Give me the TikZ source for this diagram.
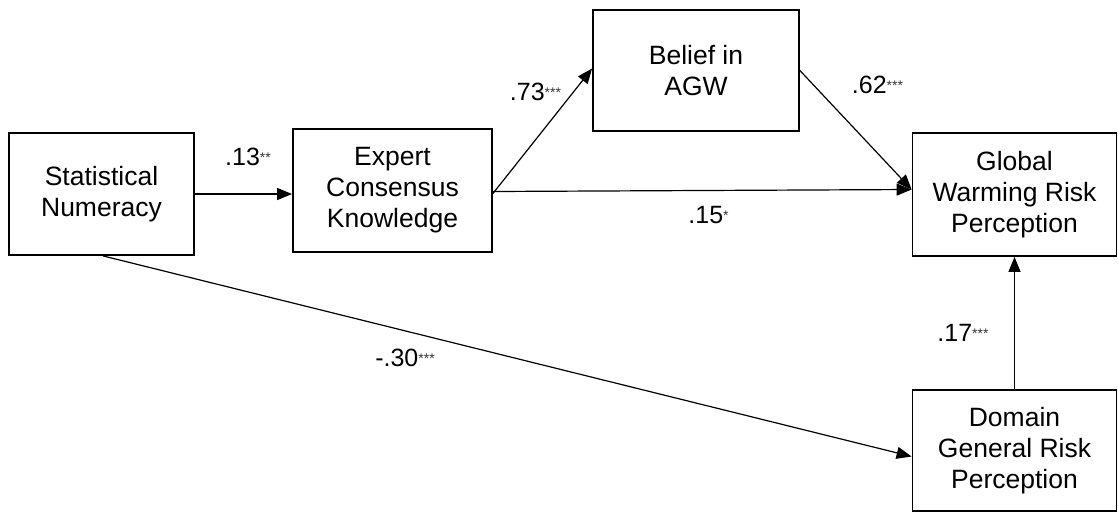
\documentclass[tikz,border=0pt]{standalone}
\usepackage{fontspec}
\setmainfont{Liberation Sans}
\usetikzlibrary{arrows.meta,calc}
\definecolor{starc}{gray}{0.2}
\newcommand\sigstars[1]{{\fontsize{14}{14}\selectfont\color{starc}\raisebox{3pt}{#1}}}
\tikzset{
  varbox/.style={draw=black, line width=1.8pt, align=center, inner sep=0pt,
    font=\fontsize{26.5}{31}\selectfont},
  path/.style={draw=black, line width=1.2pt, -{Triangle[length=15pt,width=12pt]}},
  coef/.style={inner sep=0pt, font=\fontsize{25}{25}\selectfont}
}
\begin{document}
\begin{tikzpicture}[x=1pt,y=-1pt]
\useasboundingbox (0,0) rectangle (1118,512);
\node[varbox, minimum width=185pt, minimum height=122pt] (sn) at (101.5,194) {Statistical\\Numeracy};
\node[varbox, minimum width=199pt, minimum height=123pt] (ec) at (392.5,190.5) {Expert\\Consensus\\Knowledge};
\node[varbox, minimum width=206pt, minimum height=121pt] (agw) at (696,70.5) {Belief in\\AGW};
\node[varbox, minimum width=204pt, minimum height=123pt] (gw) at (1014.5,194.5) {Global\\Warming Risk\\Perception};
\node[varbox, minimum width=204pt, minimum height=121pt] (dg) at (1014.5,450.5) {Domain\\General Risk\\Perception};

\coordinate (gwin) at ($(ec.east -| gw.west)+(0,-1)$);
\draw[path] (sn.east) -- (sn.east -| ec.west);
\draw[path] ([yshift=-3pt]ec.east) -- ([yshift=2pt]agw.west);
\draw[path] ([yshift=-1pt]ec.east) -- (gwin);
\draw[path] (agw.east) -- (gwin);
\draw[path] ([xshift=1.5pt]sn.south) -- ([yshift=-6pt]dg.west);
\draw[path] (dg.north) -- (gw.south);

\node[coef] (l13) at (248,157) {.13\sigstars{**}};
\node[coef] (l73) at (535.5,92) {.73\sigstars{***}};
\node[coef] (l62) at (877.5,85) {.62\sigstars{***}};
\node[coef] (l15) at (708.5,215) {.15\sigstars{*}};
\node[coef] (l30) at (405,358) {-.30\sigstars{***}};
\node[coef] (l17) at (963,333) {.17\sigstars{***}};
\end{tikzpicture}
\end{document}
